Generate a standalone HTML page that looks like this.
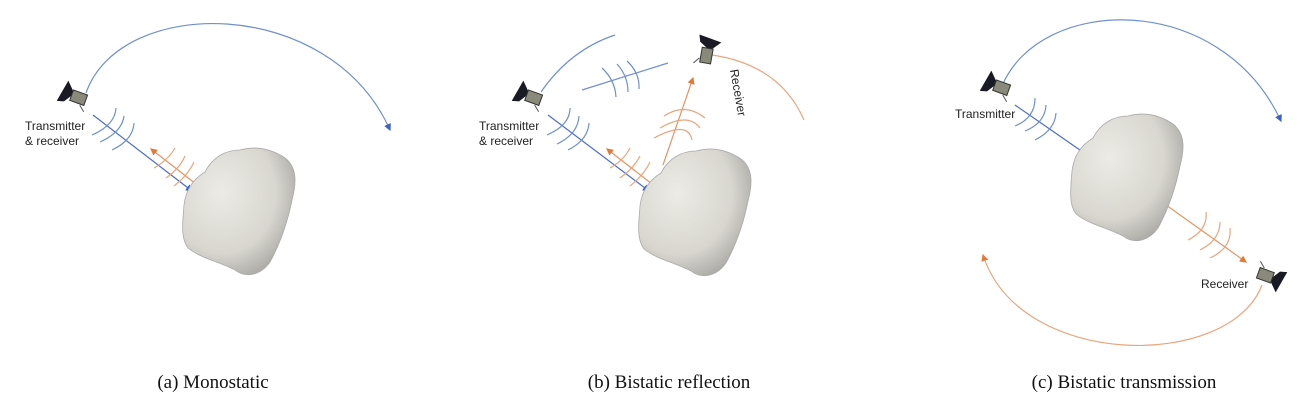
<!DOCTYPE html>
<html><head><meta charset="utf-8"><style>
body{margin:0;background:#fff;width:1310px;height:418px;overflow:hidden}
svg{position:absolute;left:0;top:0}
.cap{position:absolute;top:372px;font-family:"Liberation Serif",serif;font-size:19px;color:#111;white-space:nowrap;transform:translateX(-50%)}
</style></head><body>
<svg width="1310" height="418" viewBox="0 0 1310 418" font-family="Liberation Sans, sans-serif">
<defs>
<radialGradient id="ag" cx="0.35" cy="0.35" r="0.8">
<stop offset="0" stop-color="#ecebe5"/><stop offset="0.6" stop-color="#d8d6cf"/><stop offset="1" stop-color="#9c9a96"/></radialGradient>
<marker id="mb" markerWidth="6" markerHeight="6" refX="5" refY="3" orient="auto"><path d="M0,0L6,3L0,6z" fill="#3a62c4"/></marker>
<marker id="mo" markerWidth="6" markerHeight="6" refX="5" refY="3" orient="auto"><path d="M0,0L6,3L0,6z" fill="#e07a3a"/></marker>
<g id="ast"><path d="M205,172 C212,158 225,150 240,150 C255,146 270,148 285,158 C298,168 296,185 292,200 C288,220 282,240 270,262 C260,276 245,278 235,270 C220,262 200,258 188,248 C180,238 183,220 184,205 C186,188 195,178 205,172Z" fill="url(#ag)" stroke="#aaa" stroke-width="0.8"/></g>
<g id="sat"><path d="M-15,-13 L-5,-3 L-12,8 L-19,10 Z" fill="#1a1a24"/><rect x="-7" y="-6" width="15" height="11" fill="#8a8a7a" stroke="#333" stroke-width="1"/><path d="M4,6 l6,5" stroke="#555"/></g>
</defs>
<g fill="none" stroke-width="1.2">
<!-- Panel a -->
<path d="M86,93 C120,-5 330,-5 390,130" stroke="#6f8fcf" marker-end="url(#mb)"/>
<line x1="93" y1="115" x2="192" y2="191" stroke="#4a6ccc" marker-end="url(#mb)"/>
<line x1="196" y1="184" x2="151" y2="149" stroke="#e69464" marker-end="url(#mo)"/>
<path d="M92,135 Q115,125 116,108 M100,142 Q122,132 124,116 M112,150 Q133,140 134,123" stroke="#6f8fcf"/>
<path d="M154,168 Q168,160 175,148 M166,178 Q180,168 185,156 M174,186 Q188,175 194,162" stroke="#e9a57c"/>
<!-- Panel b -->
<path d="M541,92 Q570,50 615,35" stroke="#6f8fcf"/>
<line x1="582" y1="90" x2="668" y2="63" stroke="#6f8fcf"/>
<path d="M602,68 Q615,80 616,97 M617,64 Q628,76 628,92 M627,61 Q640,73 639,89" stroke="#6f8fcf"/>
<line x1="548" y1="115" x2="649" y2="191" stroke="#4a6ccc" marker-end="url(#mb)"/>
<path d="M547,135 Q570,125 570,108 M557,144 Q578,134 579,116 M568,150 Q588,140 589,123" stroke="#6f8fcf"/>
<line x1="652" y1="184" x2="607" y2="149" stroke="#e69464" marker-end="url(#mo)"/>
<path d="M610,168 Q624,160 630,148 M620,178 Q634,168 640,156 M630,186 Q644,175 650,162" stroke="#e9a57c"/>
<line x1="663" y1="165" x2="693" y2="78" stroke="#e69464" marker-end="url(#mo)"/>
<path d="M664,116 Q685,102 705,118 M660,128 Q688,112 700,128 M654,138 Q688,120 692,140" stroke="#e9a57c"/>
<path d="M712,55 Q780,65 804,120" stroke="#e9a57c"/>
<!-- Panel c -->
<path d="M1002,86 C1040,-5 1220,-10 1281,121" stroke="#6f8fcf" marker-end="url(#mb)"/>
<line x1="1015" y1="105" x2="1090" y2="157" stroke="#4a6ccc" marker-end="url(#mb)"/>
<path d="M1015,126 Q1035,118 1035,98 M1025,131 Q1045,123 1046,105 M1035,140 Q1055,130 1056,113" stroke="#6f8fcf"/>
<line x1="1152" y1="195" x2="1246" y2="262" stroke="#e69464" marker-end="url(#mo)"/>
<path d="M1188,240 Q1208,230 1206,212 M1200,250 Q1220,240 1220,222 M1210,258 Q1232,248 1230,228" stroke="#e9a57c"/>
<path d="M1262,285 C1230,370 1020,370 983,255" stroke="#e9a57c" marker-end="url(#mo)"/>
</g>
<use href="#ast"/>
<use href="#ast" transform="translate(456,1)"/>
<use href="#ast" transform="translate(888,-34)"/>
<use href="#sat" transform="translate(78,98) rotate(20)"/>
<use href="#sat" transform="translate(533,98) rotate(20)"/>
<use href="#sat" transform="translate(706,55) rotate(100)"/>
<use href="#sat" transform="translate(1001,88) rotate(20)"/>
<use href="#sat" transform="translate(1266,275) rotate(200)"/>
<g font-size="12" fill="#222">
<text x="25" y="130">Transmitter</text><text x="25" y="145">&amp; receiver</text>
<text x="479" y="130">Transmitter</text><text x="479" y="145">&amp; receiver</text>
<text transform="translate(730,70) rotate(80)">Receiver</text>
<text x="955" y="118">Transmitter</text>
<text x="1201" y="288">Receiver</text>
</g>
</svg>
<div class="cap" style="left:213px">(a) Monostatic</div>
<div class="cap" style="left:669px">(b) Bistatic reflection</div>
<div class="cap" style="left:1124px">(c) Bistatic transmission</div>
</body></html>
